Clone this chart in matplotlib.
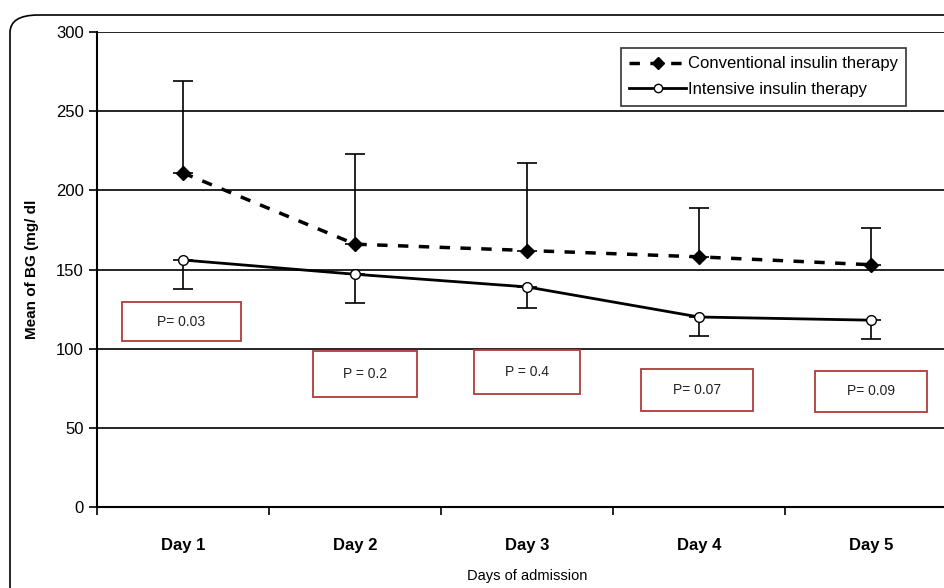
import matplotlib
matplotlib.use("Agg")
import matplotlib.pyplot as plt
from matplotlib.patches import FancyBboxPatch, Rectangle
import numpy as np

plt.rcParams['font.family'] = ['Liberation Sans', 'DejaVu Sans']

# --- data ---
days = ["Day 1", "Day 2", "Day 3", "Day 4", "Day 5"]
conv_mean = [211, 166, 162, 158, 153]
conv_upper = [269, 223, 217, 189, 176]     # top of the error bar
int_mean = [156, 147, 139, 120, 118]
int_lower = [138, 129, 126, 108, 106]      # bottom of the error bar
p_labels = ["P= 0.03", "P = 0.2", "P = 0.4", "P= 0.07", "P= 0.09"]
p_x = [0.99, 2.06, 3.0, 3.99, 5.0]         # centres of the p-value boxes (data units)
p_y = [117, 84, 85, 74, 73]

x = np.arange(1, len(days) + 1)

fig = plt.figure(figsize=(9.44, 5.88), dpi=100)

# rounded outer frame, cut off at right and bottom like the original
frame = FancyBboxPatch((10 / 944, -0.2), 1.2, 1.2 - 15 / 588,
                       boxstyle="round,pad=0,rounding_size=0.03",
                       transform=fig.transFigure, fill=False,
                       edgecolor="black", linewidth=1.2, clip_on=False)
fig.patches.append(frame)

ax = fig.add_axes([97 / 944, 81 / 588, 860 / 944, 475 / 588])
ax.set_xlim(0.5, 5.5)
ax.set_ylim(0, 300)

for yv in range(50, 301, 50):
    ax.axhline(yv, color="black", linewidth=1.2, zorder=1)

# error bars: only upward for conventional, downward for intensive
ax.errorbar(x, conv_mean, yerr=[np.zeros(5), np.array(conv_upper) - np.array(conv_mean)],
            fmt="none", ecolor="black", elinewidth=1.2, capsize=7, capthick=1.2, zorder=2)
ax.errorbar(x, int_mean, yerr=[np.array(int_mean) - np.array(int_lower), np.zeros(5)],
            fmt="none", ecolor="black", elinewidth=1.2, capsize=7, capthick=1.2, zorder=2)

ax.plot(x, conv_mean, linestyle=(0, (3, 3)), color="black", linewidth=2.5,
        marker="D", markersize=7, markerfacecolor="black", zorder=3,
        label="Conventional insulin therapy")
ax.plot(x, int_mean, linestyle="-", color="black", linewidth=2,
        marker="o", markersize=7, markerfacecolor="white", markeredgewidth=1, zorder=3,
        label="Intensive insulin therapy")

# p-value boxes, sized in pixels and converted to data units
px_x = 172.0          # pixels per category
px_y = 475.0 / 300    # pixels per data unit
box_w = [119, 104, 106, 112, 112]
box_h = [39, 46, 44, 42, 41]
for xi, yi, lab, bw, bh in zip(p_x, p_y, p_labels, box_w, box_h):
    w = bw / px_x
    h = bh / px_y
    ax.add_patch(Rectangle((xi - w / 2, yi - h / 2), w, h, facecolor="white",
                           edgecolor="#b03a3a", linewidth=1.3, zorder=4))
    ax.text(xi, yi, lab, ha="center", va="center", fontsize=10, color="#222222", zorder=5)

ax.set_xticks(x)
ax.set_xticklabels(days, fontsize=12, fontweight="bold")
ax.set_yticks(range(0, 301, 50))
ax.tick_params(axis="y", labelsize=12, length=6, direction="out", width=1.2)
ax.set_xticks(np.arange(0.5, 5.6, 1), minor=True)
ax.tick_params(axis="x", which="major", length=0, pad=22)
ax.tick_params(axis="x", which="minor", length=6, width=1.2, direction="out")

for side in ["top", "right"]:
    ax.spines[side].set_visible(False)
ax.spines["left"].set_linewidth(1.5)
ax.spines["bottom"].set_linewidth(1.5)

ax.set_ylabel("Mean of BG (mg/ dl", fontsize=11, fontweight="bold", labelpad=12)
ax.set_xlabel("Days of admission", fontsize=10.5, labelpad=12)

leg = ax.legend(loc="upper left", bbox_to_anchor=(524 / 860, 1 - 16 / 475), fontsize=12,
                frameon=True, fancybox=False, edgecolor="black", handlelength=3.4,
                handletextpad=0.1, borderpad=0.5, labelspacing=0.65, borderaxespad=0)
leg.get_frame().set_linewidth(1.2)
for h in leg.legend_handles:
    h.set_markersize(6)

fig.savefig("out.png", dpi=100)
